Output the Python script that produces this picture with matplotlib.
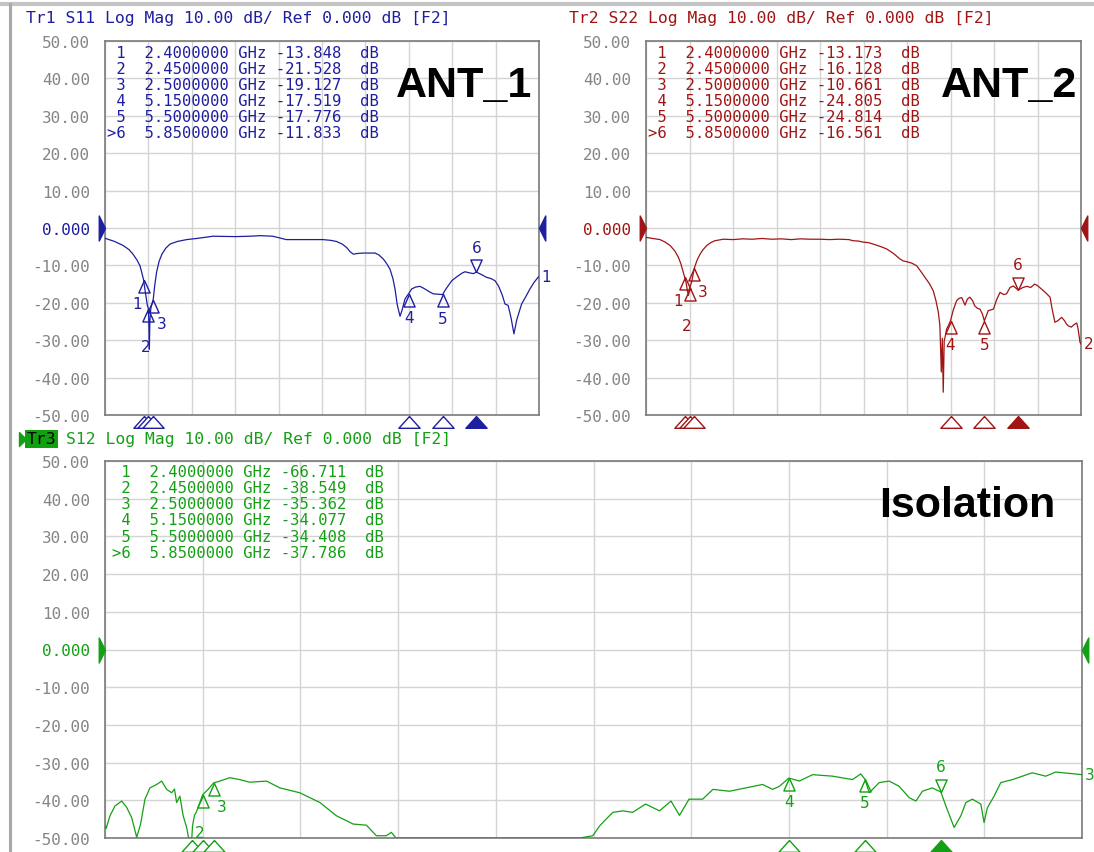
import matplotlib
matplotlib.use("Agg")
import matplotlib.pyplot as plt
import matplotlib.transforms as mtransforms
from matplotlib.lines import Line2D

W, H, DPI = 1094, 853, 100

# sweep 2.0 .. 6.5 GHz, 10 divisions
f_start, f_stop = 2.0, 6.5
db_min, db_max = -50, 50

marker_num = ["1", "2", "3", "4", "5", ">6"]
marker_f = [2.40, 2.45, 2.50, 5.15, 5.50, 5.85]
marker_fstr = ["2.4000000", "2.4500000", "2.5000000", "5.1500000", "5.5000000", "5.8500000"]

# Tr1 S11 (ANT_1)
s11_f = [2.00, 2.10, 2.19, 2.25, 2.29, 2.33, 2.363, 2.385, 2.40, 2.42, 2.44, 2.45, 2.455,
         2.46, 2.465, 2.475, 2.49, 2.50, 2.515, 2.535, 2.56, 2.59, 2.63, 2.674, 2.75, 2.847,
         2.95, 3.12, 3.35, 3.50, 3.61, 3.74, 3.88, 4.10, 4.26, 4.34, 4.40, 4.46, 4.505, 4.54,
         4.575, 4.62, 4.68, 4.80, 4.84, 4.886, 4.92, 4.955, 4.985, 5.007, 5.03, 5.059, 5.08,
         5.11, 5.15, 5.18, 5.22, 5.266, 5.31, 5.36, 5.404, 5.45, 5.50, 5.53, 5.595, 5.65,
         5.70, 5.733, 5.78, 5.82, 5.85, 5.90, 5.957, 6.00, 6.044, 6.08, 6.12, 6.147, 6.18,
         6.21, 6.24, 6.27, 6.32, 6.36, 6.406, 6.45, 6.49, 6.50]
s11_db = [-2.75, -3.6, -4.7, -5.8, -7.0, -8.5, -10.1, -12.3, -13.85, -17.5, -20.8, -21.5, -26.0,
          -32.4, -25.0, -21.5, -20.0, -19.1, -15.5, -11.8, -9.0, -7.0, -5.4, -4.3, -3.6, -3.1,
          -2.8, -2.2, -2.3, -2.2, -2.05, -2.2, -3.1, -3.1, -3.1, -3.3, -3.6, -4.3, -5.2, -6.3,
          -7.0, -6.8, -6.7, -6.7, -7.2, -8.3, -9.5, -11.0, -13.5, -16.3, -20.5, -23.6, -22.0,
          -19.0, -17.5, -16.3, -15.8, -15.6, -16.2, -17.0, -17.6, -17.7, -17.8, -16.5, -14.1, -13.0,
          -12.1, -11.7, -12.0, -12.2, -11.8, -12.4, -13.2, -13.5, -14.1, -15.5, -18.0, -20.3, -20.7,
          -24.0, -28.3, -24.5, -20.3, -18.5, -16.3, -14.5, -13.2, -13.0]
s11_marker_db = [-13.848, -21.528, -19.127, -17.519, -17.776, -11.833]

# Tr2 S22 (ANT_2)
s22_f = [2.00, 2.07, 2.145, 2.20, 2.25, 2.30, 2.334, 2.36, 2.386, 2.40, 2.414, 2.43, 2.44,
         2.45, 2.473, 2.50, 2.53, 2.559, 2.59, 2.628, 2.67, 2.714, 2.80, 2.90, 3.00, 3.10,
         3.20, 3.30, 3.40, 3.50, 3.60, 3.70, 3.80, 3.90, 4.00, 4.10, 4.14, 4.20, 4.25, 4.30,
         4.35, 4.42, 4.49, 4.56, 4.628, 4.66, 4.697, 4.75, 4.80, 4.84, 4.886, 4.93, 4.972,
         5.00, 5.024, 5.04, 5.055, 5.065, 5.075, 5.085, 5.09, 5.11, 5.13, 5.15, 5.18, 5.214,
         5.24, 5.266, 5.30, 5.325, 5.35, 5.38, 5.40, 5.43, 5.455, 5.48, 5.50, 5.52, 5.54,
         5.594, 5.63, 5.663, 5.70, 5.73, 5.766, 5.80, 5.85, 5.90, 5.94, 5.98, 6.02, 6.05,
         6.09, 6.13, 6.18, 6.20, 6.23, 6.26, 6.30, 6.33, 6.35, 6.37, 6.40, 6.43, 6.456,
         6.47, 6.49, 6.50]
s22_db = [-2.5, -2.8, -3.1, -3.8, -4.7, -6.2, -7.8, -9.5, -11.9, -13.2, -14.5, -17.0, -18.0,
          -16.1, -14.4, -10.7, -8.5, -7.0, -5.8, -4.7, -3.9, -3.4, -3.0, -3.1, -2.9, -3.0,
          -2.8, -3.0, -2.9, -3.1, -2.9, -3.0, -3.0, -3.1, -3.0, -3.1, -3.4, -3.5, -3.8, -3.9,
          -4.3, -4.9, -5.6, -6.8, -8.3, -8.8, -9.0, -9.4, -10.1, -11.5, -13.2, -14.8, -16.8,
          -19.5, -22.5, -26.0, -38.5, -29.5, -43.9, -30.0, -29.7, -27.0, -26.0, -24.8, -21.8, -19.4,
          -18.8, -18.6, -20.6, -19.0, -18.5, -19.5, -20.8, -21.5, -21.7, -23.0, -24.8, -23.5, -22.1,
          -21.7, -19.0, -17.2, -17.8, -17.6, -15.9, -15.5, -16.6, -15.9, -15.6, -15.9, -15.0, -15.4,
          -16.3, -17.2, -18.5, -21.5, -25.2, -24.8, -23.9, -24.8, -25.7, -26.2, -26.5, -25.8, -25.4,
          -27.0, -30.6, -31.0]
s22_marker_db = [-13.173, -16.128, -10.661, -24.805, -24.814, -16.561]

# Tr3 S12 (isolation)
s12_f = [2.000, 2.005, 2.023, 2.046, 2.077, 2.10, 2.123, 2.146, 2.164, 2.184, 2.207, 2.238,
         2.261, 2.284, 2.307, 2.32, 2.33, 2.345, 2.36, 2.376, 2.385, 2.40, 2.403, 2.412, 2.42,
         2.437, 2.45, 2.475, 2.50, 2.529, 2.575, 2.62, 2.667, 2.744, 2.805, 2.897, 2.99, 3.066,
         3.143, 3.204, 3.25, 3.296, 3.319, 3.34, 4.186, 4.247, 4.278, 4.308, 4.339, 4.385,
         4.43, 4.49, 4.554, 4.607, 4.646, 4.69, 4.753, 4.80, 4.876, 4.952, 5.029, 5.075, 5.106,
         5.15, 5.198, 5.259, 5.351, 5.443, 5.481, 5.50, 5.52, 5.566, 5.612, 5.658, 5.704, 5.735,
         5.765, 5.81, 5.85, 5.873, 5.911, 5.942, 5.965, 5.995, 6.034, 6.049, 6.064, 6.095,
         6.126, 6.18, 6.271, 6.333, 6.379, 6.50]
s12_db = [-46.8, -47.5, -44.1, -41.5, -40.2, -41.9, -44.6, -49.8, -46.3, -39.7, -36.7, -35.8,
          -34.9, -37.1, -38.0, -37.0, -40.6, -38.9, -44.1, -47.2, -50.0, -50.0, -46.8, -44.0, -43.2,
          -40.6, -38.5, -37.1, -35.4, -34.9, -34.0, -34.5, -35.2, -34.9, -36.7, -38.0, -40.6, -44.1,
          -46.3, -46.6, -49.4, -49.4, -48.5, -50.0, -50.0, -49.4, -46.8, -45.0, -43.2, -42.8,
          -43.2, -41.0, -42.8, -40.2, -44.0, -39.7, -39.7, -37.1, -37.6, -36.7, -35.8, -37.1, -36.3,
          -34.1, -34.9, -33.2, -33.6, -34.5, -33.0, -34.4, -38.0, -35.3, -34.9, -36.3, -39.3, -40.2,
          -37.6, -36.7, -37.8, -41.5, -47.2, -44.1, -40.6, -39.7, -41.0, -45.9, -42.0, -38.9,
          -35.3, -34.5, -32.7, -33.6, -32.5, -33.2]
s12_marker_db = [-66.711, -38.549, -35.362, -34.077, -34.408, -37.786]

yticks = [50, 40, 30, 20, 10, 0, -10, -20, -30, -40, -50]
ytick_labels = ["50.00", "40.00", "30.00", "20.00", "10.00", "0.000",
                "-10.00", "-20.00", "-30.00", "-40.00", "-50.00"]

MONO = "DejaVu Sans Mono"
GRAY = "#858585"

# marker shapes, apex at the data point
tri_up = [(0, 0), (-0.45, -1), (0.45, -1), (0, 0)]
tri_dn = [(0, 0), (-0.45, 1), (0.45, 1), (0, 0)]
tri_foot = [(0, 0), (-0.9, -1), (0.9, -1), (0, 0)]
ref_left = [(0, 0), (-0.5, 1), (-0.5, -1), (0, 0)]
ref_right = [(0, 0), (0.5, 1), (0.5, -1), (0, 0)]

# where the marker numbers sit, relative to the marker (points)
label_off = [(-5, -17), (-2, -27), (6, -17), (0, -17), (0, -17), (0, 18)]

fig = plt.figure(figsize=(W / DPI, H / DPI), dpi=DPI)
fig.patch.set_facecolor("white")


def px_axes(x0, y0, x1, y1):
    return fig.add_axes([x0 / W, 1 - y1 / H, (x1 - x0) / W, (y1 - y0) / H])


def ftext(x, y, s, **kw):
    return fig.text(x / W, 1 - y / H, s, **kw)


def panel(box, f, db, mdb, color, trace_no, big, big_xy, table_x, table_y):
    ax = px_axes(*box)
    ax.set_xlim(f_start, f_stop)
    ax.set_ylim(db_min, db_max)
    ax.set_xticks([f_start + 0.45 * k for k in range(11)])
    ax.set_yticks(yticks)
    ax.set_yticklabels(ytick_labels, fontfamily=MONO, fontsize=11.5, color=GRAY)
    ax.get_yticklabels()[5].set_color(color)
    ax.tick_params(axis="y", length=0, pad=10.5)
    ax.tick_params(axis="x", length=0, labelbottom=False)
    ax.grid(color="#d4d4d4", lw=1.0)
    ax.set_axisbelow(True)
    for sp in ax.spines.values():
        sp.set_color("#7a7a7a")
        sp.set_linewidth(1.2)

    ax.plot(f, db, color=color, lw=0.9, zorder=3)

    # reference level arrows at 0 dB
    tr = mtransforms.blended_transform_factory(ax.transAxes, ax.transData)
    ax.plot([0], [0], transform=tr, marker=ref_left, ms=18, color=color,
            mec=color, clip_on=False, zorder=5)
    ax.plot([1], [0], transform=tr, marker=ref_right, ms=18, color=color,
            mec=color, clip_on=False, zorder=5)

    # trace number at the right end
    ax.annotate(trace_no, (f[-1], db[-1]), xytext=(2, 0), textcoords="offset points",
                ha="left", va="center", color=color, fontsize=11, fontfamily="DejaVu Sans",
                annotation_clip=False)

    # markers on the trace
    for i, (mf, mv) in enumerate(zip(marker_f, mdb)):
        if mv < db_min:
            continue
        shape = tri_dn if i == 5 else tri_up
        ax.plot([mf], [mv], marker=shape, ms=18, mfc="white" if i == 5 else "none",
                mec=color, mew=1.0, ls="none", zorder=4)
        ax.annotate(str(i + 1), (mf, mv), xytext=label_off[i], textcoords="offset points",
                    ha="center", va="center", color=color, fontsize=11)

    # marker positions under the grid
    trb = mtransforms.blended_transform_factory(ax.transData, ax.transAxes)
    for i, mf in enumerate(marker_f):
        ax.plot([mf], [-0.004], transform=trb, marker=tri_foot, ms=17,
                mfc=color if i == 5 else "white", mec=color, mew=1.0,
                clip_on=False, zorder=5)

    # marker readout table
    for i in range(6):
        row = f"{marker_num[i]:>2}  {marker_fstr[i]} GHz {mdb[i]:.3f}  dB"
        ftext(table_x, table_y + 16 * i, row, fontfamily=MONO, fontsize=11.2,
              color=color, va="center", ha="left")

    ftext(big_xy[0], big_xy[1], big, fontfamily="Liberation Sans", fontweight="bold",
          fontsize=31, color="black", ha="left", va="baseline")
    return ax


blue, red, green = "#1e1ea0", "#a01414", "#14a014"

panel((105, 42, 539, 416), s11_f, s11_db, s11_marker_db, blue, "1",
      "ANT_1", (396, 97), 107, 53)
panel((646, 42, 1081, 416), s22_f, s22_db, s22_marker_db, red, "2",
      "ANT_2", (941, 97), 648, 53)
panel((105, 462, 1082, 839), s12_f, s12_db, s12_marker_db, green, "3",
      "Isolation", (879, 517), 112, 473)

# channel headers
hdr = "Log Mag 10.00 dB/ Ref 0.000 dB [F2]"
ftext(26, 19, "Tr1 S11 " + hdr, fontfamily=MONO, fontsize=11.8, color=blue, va="center")
ftext(569, 19, "Tr2 S22 " + hdr, fontfamily=MONO, fontsize=11.8, color=red, va="center")
ftext(27, 440, "Tr3", fontfamily=MONO, fontsize=11.8, color="black", va="center",
      bbox=dict(boxstyle="square,pad=0.1", fc="#10a010", ec="none"))
ftext(66, 440, "S12 " + hdr, fontfamily=MONO, fontsize=11.8, color=green, va="center")
fig.add_artist(Line2D([19 / W], [1 - 440 / H], marker=[(0, 1), (1, 0), (0, -1), (0, 1)],
                      ms=10, color=green, transform=fig.transFigure))

# window frame
fig.add_artist(Line2D([0, 1], [1 - 5 / H, 1 - 5 / H], color="#c4c4c4", lw=3,
                      transform=fig.transFigure))
fig.add_artist(Line2D([9.5 / W, 9.5 / W], [0, 1 - 5 / H], color="#a8a8a8", lw=2.2,
                      transform=fig.transFigure))

fig.savefig("out.png", dpi=DPI, facecolor="white")
